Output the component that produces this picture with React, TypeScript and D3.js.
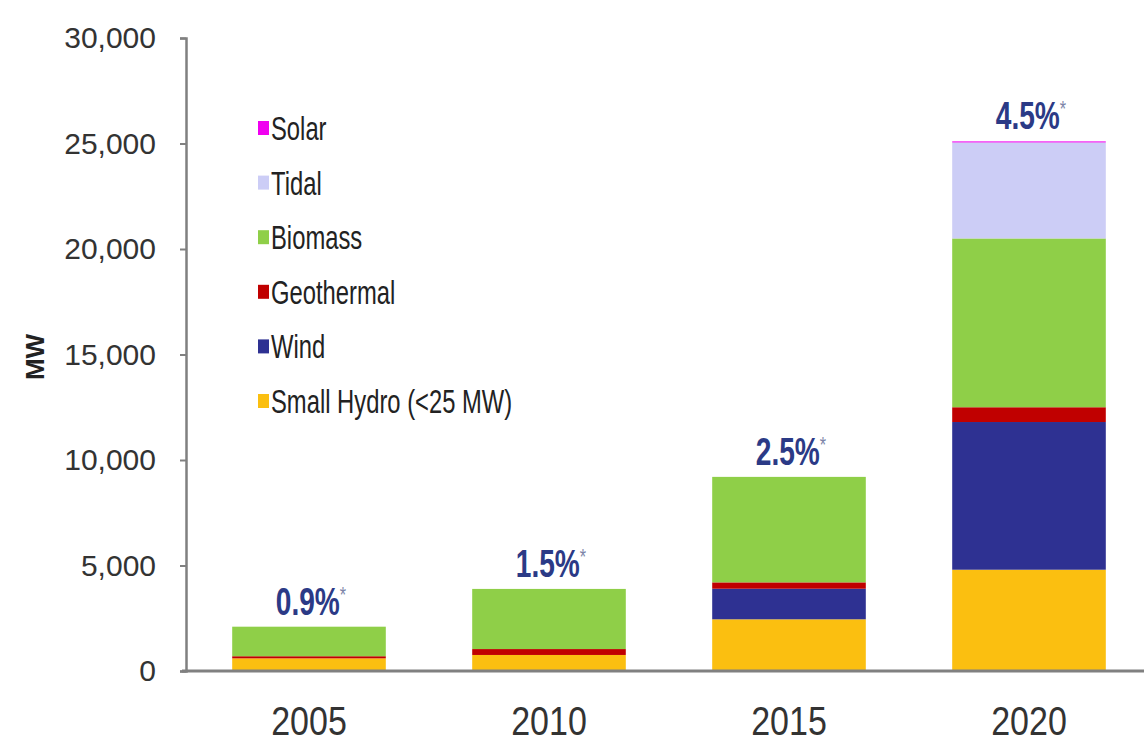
import React, { useEffect, useRef } from "react";
import * as d3 from "d3";

// 各年份裝置容量 (MW)
const years = ["2005", "2010", "2015", "2020"];
const smallHydro = [600, 760, 2450, 4800];
const wind = [0, 0, 1450, 7000];
const geothermal = [100, 280, 300, 700];
const biomass = [1400, 2850, 5000, 8000];
const tidal = [0, 0, 0, 4550];
const solar = [0, 0, 0, 50];
const shareLabels = ["0.9%", "1.5%", "2.5%", "4.5%"];
const yTicks = [0, 5000, 10000, 15000, 20000, 25000, 30000];

// 由下往上堆疊的順序
const seriesNames = ["Small Hydro (<25 MW)", "Wind", "Geothermal", "Biomass", "Tidal", "Solar"];
const seriesValues = [smallHydro, wind, geothermal, biomass, tidal, solar];
const seriesColors = ["#fbbf10", "#2e3192", "#c00000", "#8fcf48", "#cccdf6", "#f000f0"];

const W = 1144;
const H = 744;
const FONT = "'Liberation Sans', Arial, sans-serif";

export default function App() {
  const yAxisRef = useRef<SVGGElement>(null);

  const x = d3.scaleBand().domain(years).range([189, 1149]).paddingInner(0.36).paddingOuter(0.18);
  const y = d3.scaleLinear().domain([0, 30000]).range([671, 38]);

  const rows = years.map((yr, i) => {
    const r: any = { year: yr };
    seriesNames.forEach((n, k) => (r[n] = seriesValues[k][i]));
    return r;
  });
  const stacked = d3.stack().keys(seriesNames)(rows);
  const totals = years.map((_, i) => d3.sum(seriesValues, (s) => s[i]));

  useEffect(() => {
    const g = d3.select(yAxisRef.current);
    g.selectAll("*").remove();
    g.call(
      d3.axisLeft(y).tickValues(yTicks).tickSize(6).tickPadding(24).tickFormat(d3.format(","))
    );
    g.select(".domain").attr("stroke", "#808080").attr("stroke-width", 2.5);
    g.selectAll(".tick line").attr("stroke", "#808080").attr("stroke-width", 2);
    g.selectAll(".tick text")
      .attr("fill", "#333")
      .attr("font-size", 30)
      .attr("font-family", FONT);
  }, []);

  const legendOrder = [...seriesNames].reverse();
  const legendColors = [...seriesColors].reverse();

  return (
    <svg
      width={W}
      height={H}
      style={{ position: "absolute", left: 0, top: 0, background: "#fff" }}
    >
      {/* 堆疊長條 */}
      {stacked.map((layer, k) => (
        <g key={layer.key} fill={seriesColors[k]}>
          {layer.map((d, i) =>
            d[1] - d[0] > 0 ? (
              <rect
                key={i}
                x={x(years[i])}
                y={y(d[1])}
                width={x.bandwidth()}
                height={y(d[0]) - y(d[1])}
              />
            ) : null
          )}
        </g>
      ))}

      {/* Y 軸 */}
      <g ref={yAxisRef} transform="translate(186,0)" />

      {/* X 軸線 */}
      <line x1={182} x2={W} y1={y(0)} y2={y(0)} stroke="#808080" strokeWidth={3} />

      {/* 年份標籤 */}
      {years.map((yr) => (
        <text
          key={yr}
          transform={`translate(${x(yr)! + x.bandwidth() / 2},735) scale(0.85,1)`}
          textAnchor="middle"
          fontFamily={FONT}
          fontSize={40}
          fill="#333"
        >
          {yr}
        </text>
      ))}

      {/* 百分比標籤 */}
      {years.map((yr, i) => (
        <text
          key={"p" + yr}
          transform={`translate(${x(yr)! + x.bandwidth() / 2 + 2},${y(totals[i]) - 12}) scale(0.74,1)`}
          textAnchor="middle"
          fontFamily={FONT}
          fontWeight="bold"
          fontSize={38}
          fill="#2b3a86"
        >
          {shareLabels[i]}
          <tspan fontSize={22} dy={-13} fill="#7d85a8" fontWeight="normal">*</tspan>
        </text>
      ))}

      {/* Y 軸標題 */}
      <text
        transform="translate(44,357) rotate(-90)"
        textAnchor="middle"
        fontFamily={FONT}
        fontWeight="bold"
        fontSize={26}
        fill="#222"
      >
        MW
      </text>

      {/* 圖例 */}
      {legendOrder.map((name, i) => (
        <g key={name} transform={`translate(258,${128 + i * 54.6})`}>
          <rect x={0} y={-7} width={11} height={14} fill={legendColors[i]} />
          <text
            transform="translate(13,12) scale(0.7,1)"
            fontFamily={FONT}
            fontSize={34}
            fill="#222"
          >
            {name}
          </text>
        </g>
      ))}
    </svg>
  );
}
